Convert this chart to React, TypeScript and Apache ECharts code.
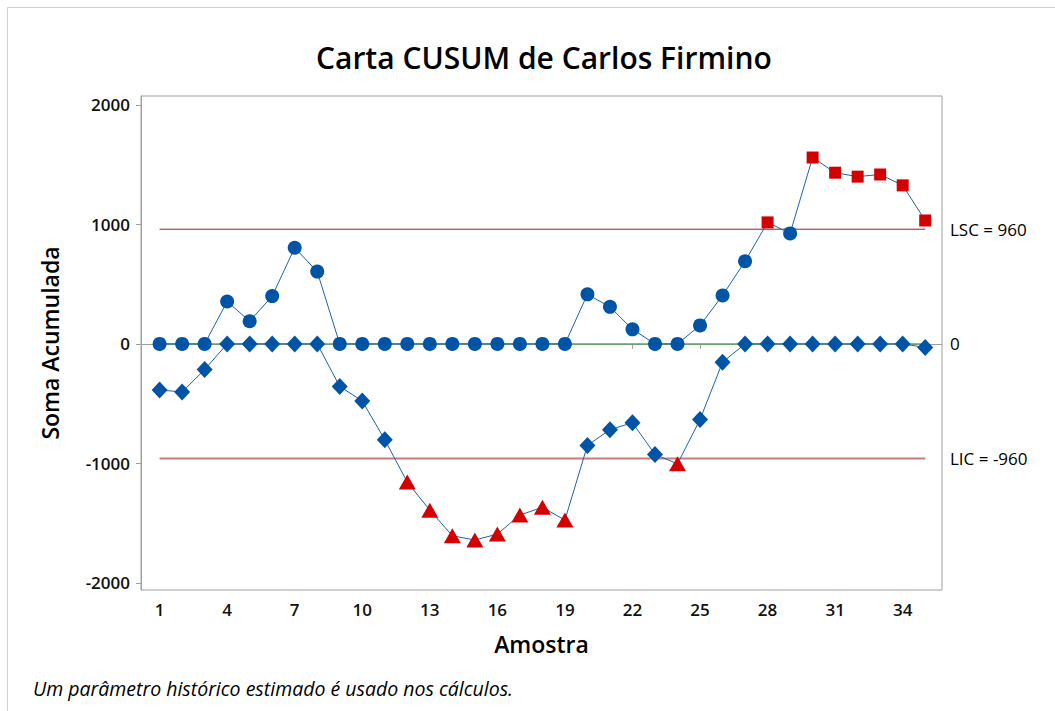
import React, { useEffect, useRef } from "react";
import * as echarts from "echarts";

const samples = [1, 2, 3, 4, 5, 6, 7, 8, 9, 10, 11, 12, 13, 14, 15, 16, 17, 18, 19, 20, 21, 22, 23, 24, 25, 26, 27, 28, 29, 30, 31, 32, 33, 34, 35];
const upperCusum = [0, 0, 0, 355, 190, 400, 805, 605, 0, 0, 0, 0, 0, 0, 0, 0, 0, 0, 0, 415, 310, 122, 0, 0, 155, 405, 692, 1017, 925, 1560, 1433, 1400, 1418, 1327, 1033];
const lowerCusum = [-386, -402, -215, 0, 0, 0, 0, 0, -356, -478, -802, -1157, -1392, -1606, -1642, -1592, -1433, -1367, -1475, -850, -718, -660, -925, -1004, -633, -153, 0, 0, 0, 0, 0, 0, 0, 0, -30];
const xTicks = [1, 4, 7, 10, 13, 16, 19, 22, 25, 28, 31, 34];
const yTicks = [-2000, -1000, 0, 1000, 2000];
const LSC = 960;
const LIC = -960;
const CENTER = 0;
const limitValues = [LSC, CENTER, LIC];
const limitLabels = ["LSC = 960", "0", "LIC = -960"];

const FONT = "'Open Sans', 'Noto Sans', sans-serif";
const BLUE = "#0054A6";
const LINE_BLUE = "#1f62b4";
const RED = "#D40000";

export default function App() {
  const ref = useRef<HTMLDivElement>(null);
  useEffect(() => {
    if (!ref.current) return;
    const chart = echarts.init(ref.current, null, { renderer: "svg" });
    const first = samples[0];
    const last = samples[samples.length - 1];

    const upperData = samples.map((s, i) => {
      const v = upperCusum[i];
      const out = v > LSC;
      return {
        value: [s, v],
        symbol: out ? "rect" : "circle",
        symbolSize: out ? 12 : 14,
        itemStyle: { color: out ? RED : BLUE },
      };
    });
    const lowerData = samples.map((s, i) => {
      const v = lowerCusum[i];
      const out = v < LIC;
      return {
        value: [s, v],
        symbol: out ? "triangle" : "diamond",
        symbolSize: out ? [17, 15] : [16, 17],
        itemStyle: { color: out ? RED : BLUE },
      };
    });

    const option: any = {
      animation: false,
      backgroundColor: "#ffffff",
      textStyle: { fontFamily: FONT },
      title: {
        text: "Carta CUSUM de Carlos Firmino",
        left: 311,
        top: 37,
        textStyle: { fontFamily: FONT, fontSize: 30, fontWeight: 600, color: "#000" },
      },
      grid: {
        left: 141,
        right: 113,
        top: 96,
        bottom: 121,
        show: true,
        borderColor: "#a0a0a0",
        borderWidth: 1,
        containLabel: false,
      },
      xAxis: {
        type: "value",
        min: 0.174,
        max: 35.746,
        name: "Amostra",
        nameLocation: "middle",
        nameGap: 42,
        nameTextStyle: { fontFamily: FONT, fontSize: 23, fontWeight: 600, color: "#000" },
        axisLine: { show: true, lineStyle: { color: "#a0a0a0" } },
        axisTick: { show: true, customValues: xTicks, length: 5, lineStyle: { color: "#a0a0a0" } },
        axisLabel: { customValues: xTicks, margin: 11, fontSize: 17, fontWeight: 600, color: "#111", fontFamily: FONT, formatter: (v: number) => String(v) },
        splitLine: { show: false },
      },
      yAxis: [
        {
          type: "value",
          min: -2060,
          max: 2075,
          name: "Soma Acumulada",
          nameLocation: "middle",
          nameGap: 80,
          nameTextStyle: { fontFamily: FONT, fontSize: 23, fontWeight: 600, color: "#000" },
          axisLine: { show: true, lineStyle: { color: "#a0a0a0" } },
          axisTick: { show: true, customValues: yTicks, length: 5, lineStyle: { color: "#a0a0a0" } },
          axisLabel: { customValues: yTicks, margin: 11, fontSize: 17, fontWeight: 600, color: "#111", fontFamily: FONT, formatter: (v: number) => String(v) },
          splitLine: { show: false },
        },
        {
          type: "value",
          position: "right",
          min: -2060,
          max: 2075,
          axisLine: { show: false },
          axisTick: { show: false },
          axisLabel: {
            customValues: limitValues,
            margin: 8,
            fontSize: 17,
            color: "#000",
            fontFamily: FONT,
            formatter: (v: number) => {
              const idx = limitValues.indexOf(v);
              return idx >= 0 ? limitLabels[idx] : "";
            },
          },
          splitLine: { show: false },
        },
      ],
      graphic: [
        { type: "line", shape: { x1: 7.5, y1: 7.5, x2: 1055, y2: 7.5 }, style: { stroke: "#d0d0d0", lineWidth: 1 } },
        { type: "line", shape: { x1: 7.5, y1: 7.5, x2: 7.5, y2: 711 }, style: { stroke: "#d0d0d0", lineWidth: 1 } },
        {
          type: "text",
          left: 33,
          top: 678,
          style: {
            text: "Um parâmetro histórico estimado é usado nos cálculos.",
            fontFamily: FONT,
            fontSize: 19.5,
            fontStyle: "italic",
            fill: "#000",
          },
        },
      ],
      series: [
        {
          name: "LSC",
          type: "line",
          data: [[first, LSC], [last, LSC]],
          symbol: "none",
          lineStyle: { color: "#9b1f1f", width: 1 },
          silent: true,
          z: 1,
        },
        {
          name: "LIC",
          type: "line",
          data: [[first, LIC], [last, LIC]],
          symbol: "none",
          lineStyle: { color: "#c97b7b", width: 2 },
          silent: true,
          z: 1,
        },
        {
          name: "Centro",
          type: "line",
          data: [[first, CENTER], [last, CENTER]],
          symbol: "none",
          lineStyle: { color: "#1fa030", width: 1 },
          silent: true,
          z: 1,
        },
        {
          name: "Cusum inferior",
          type: "line",
          data: lowerData,
          lineStyle: { color: LINE_BLUE, width: 1 },
          z: 3,
        },
        {
          name: "Cusum superior",
          type: "line",
          data: upperData,
          lineStyle: { color: LINE_BLUE, width: 1 },
          z: 4,
        },
      ],
    };
    chart.setOption(option);
    return () => chart.dispose();
  }, []);

  return (
    <div
      ref={ref}
      style={{ position: "absolute", left: 0, top: 0, width: 1055, height: 711, background: "#fff" }}
    />
  );
}
